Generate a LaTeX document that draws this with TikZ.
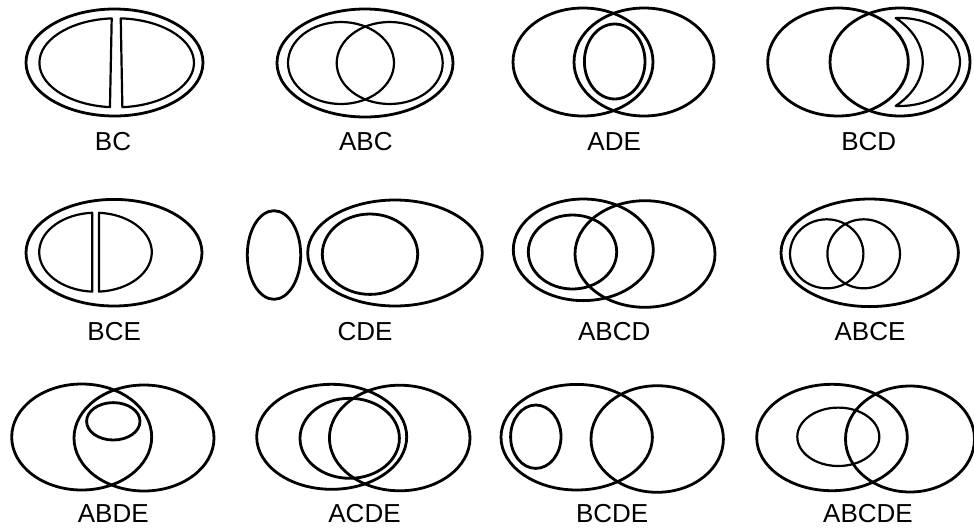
\documentclass[tikz,border=0pt]{standalone}
\usepackage{fontspec}
\setmainfont{Liberation Sans}
\begin{document}
\begin{tikzpicture}[x=1pt,y=-1pt,
  bigline/.style={line width=2.8pt},
  smallline/.style={line width=2.2pt, line join=round},
  lbl/.style={font=\fontsize{26}{31}\selectfont, inner sep=0pt}]
\useasboundingbox (0,0) rectangle (974,531);
% ---- BC
\draw[bigline] (114.5,62.5) ellipse [x radius=88.5, y radius=53.5];
\draw[smallline] ({116.7+77.3*cos(95)},{62.8+44.5*sin(95)}) arc[start angle=95,end angle=266.3,x radius=77.3,y radius=44.5] -- cycle;
\draw[smallline] ({116.7+77.3*cos(85.8)},{62.8+44.5*sin(85.8)}) arc[start angle=85.8,end angle=-87,x radius=77.3,y radius=44.5] -- cycle;
\node[lbl] (bc) at (113,142) {BC};
% ---- ABC
\draw[bigline] (365,63) ellipse [x radius=88, y radius=54];
\draw[smallline] (341,63) ellipse [x radius=53, y radius=41];
\draw[smallline] (389.7,63) ellipse [x radius=53, y radius=41];
\node[lbl] (abc) at (365.8,142) {ABC};
% ---- ADE
\draw[bigline] (583,62) ellipse [x radius=70, y radius=54];
\draw[bigline] (644,62) ellipse [x radius=70, y radius=54];
\draw[bigline] (614.7,61.5) ellipse [x radius=30.3, y radius=37.5];
\node[lbl] (ade) at (614.2,142) {ADE};
% ---- BCD
\draw[bigline] (838,62) ellipse [x radius=70.3, y radius=54];
\draw[bigline] (900,62) ellipse [x radius=70, y radius=54];
\draw[smallline] ({900+60*cos(-94.1)},{62+44*sin(-94.1)}) arc[start angle=-94.1,end angle=94.1,x radius=60,y radius=44]
  arc[start angle=47.1,end angle=-47.1,x radius=84.7,y radius=60] -- cycle;
\node[lbl] (bcd) at (868.7,142) {BCD};
% ---- BCE
\draw[bigline] (114,252.7) ellipse [x radius=88, y radius=53.3];
\draw[smallline] ({95.5+56.3*cos(93.3)},{252.2+39.5*sin(93.3)}) arc[start angle=93.3,end angle=266.7,x radius=56.3,y radius=39.5] -- cycle;
\draw[smallline] ({95.5+56.3*cos(86.4)},{252.2+39.5*sin(86.4)}) arc[start angle=86.4,end angle=-86.4,x radius=56.3,y radius=39.5] -- cycle;
\node[lbl] (bce) at (114.2,332) {BCE};
% ---- CDE
\draw[bigline] (274,255) ellipse [x radius=26.7, y radius=44.3];
\draw[bigline] (395,253) ellipse [x radius=87.3, y radius=53];
\draw[bigline] (370,254.2) ellipse [x radius=47.7, y radius=40.2];
\node[lbl] (cde) at (365,331.7) {CDE};
% ---- ABCD
\draw[bigline] (583.3,249.8) ellipse [x radius=70, y radius=50.8];
\draw[bigline] (645,254) ellipse [x radius=70, y radius=53.3];
\draw[bigline] (572.5,252) ellipse [x radius=44.2, y radius=37];
\node[lbl] (abcd) at (614.2,331.7) {ABCD};
% ---- ABCE
\draw[bigline] (869.7,252.8) ellipse [x radius=88.7, y radius=53.8];
\draw[smallline] (826.7,253.8) ellipse [x radius=36.7, y radius=34.5];
\draw[smallline] (863.7,253.8) ellipse [x radius=36.3, y radius=34.5];
\node[lbl] (abce) at (870,331.7) {ABCE};
% ---- ABDE
\draw[bigline] (81.7,437) ellipse [x radius=70, y radius=53];
\draw[bigline] (144,438) ellipse [x radius=70, y radius=53];
\draw[bigline] (113.3,421.3) ellipse [x radius=26.7, y radius=18.7];
\node[lbl] (abde) at (113.3,514) {ABDE};
% ---- ACDE
\draw[bigline] (331.7,436.8) ellipse [x radius=75, y radius=52.5];
\draw[bigline] (399.7,438) ellipse [x radius=70.3, y radius=52.8];
\draw[bigline] (349.7,438.3) ellipse [x radius=49.7, y radius=40];
\node[lbl] (acde) at (364.5,514) {ACDE};
% ---- BCDE
\draw[bigline] (576.7,437.2) ellipse [x radius=75.7, y radius=52.8];
\draw[bigline] (657.2,439) ellipse [x radius=66.2, y radius=53.3];
\draw[bigline] (535.8,436.7) ellipse [x radius=25.2, y radius=31.7];
\node[lbl] (bcde) at (612.2,514) {BCDE};
% ---- ABCDE
\draw[bigline] (832,437.5) ellipse [x radius=75.3, y radius=53.2];
\draw[bigline] (910,439) ellipse [x radius=64.5, y radius=53];
\draw[smallline] (838.3,436.8) ellipse [x radius=41, y radius=29.2];
\node[lbl] (abcde) at (868,514) {ABCDE};
\end{tikzpicture}
\end{document}
